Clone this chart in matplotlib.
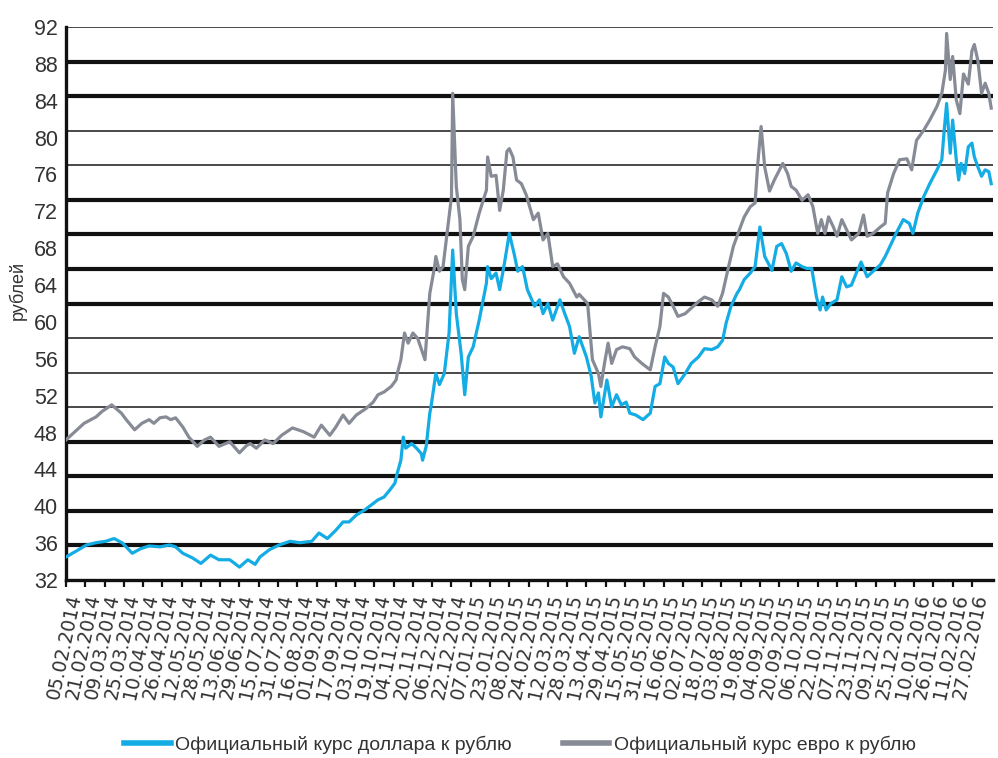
import numpy as np
import pandas as pd
import matplotlib
matplotlib.use('Agg')
import matplotlib.pyplot as plt
from matplotlib import font_manager

# дни от 05.02.2014 и курсы (руб.)
usd_days = [0, 8, 17, 25, 33, 40, 47, 55, 62, 69, 78, 86, 91, 97, 105, 112, 120, 127, 136, 144,
            151, 157, 161, 169, 177, 186, 194, 204, 210, 217, 224, 230, 235, 241, 248, 253, 259, 264, 269, 273,
            275, 278, 280, 282, 287, 291, 295, 296, 299, 302, 303, 307, 310, 314, 318, 321, 324, 328, 331, 334,
            338, 343, 349, 350, 353, 357, 360, 364, 368, 372, 375, 379, 383, 389, 393, 396, 400, 404, 410, 414,
            418, 422, 426, 432, 436, 439, 442, 444, 449, 453, 457, 461, 465, 468, 473, 479, 485, 489, 493, 497,
            500, 504, 508, 514, 519, 525, 530, 536, 541, 545, 548, 552, 557, 559, 563, 568, 572, 576, 580, 586,
            590, 594, 598, 602, 606, 611, 615, 619, 623, 626, 628, 631, 635, 640, 644, 648, 652, 656, 660, 665,
            670, 676, 680, 684, 689, 695, 700, 703, 707, 712, 717, 723, 727, 729, 731, 734, 736, 739, 741, 743,
            746, 749, 752, 754, 757, 760, 763, 766, 768]
usd_rate = [34.5, 35.1, 35.8, 36.05, 36.2, 36.5, 36.0, 34.9, 35.4, 35.7, 35.6, 35.8, 35.6, 34.9, 34.4, 33.8, 34.7, 34.2, 34.2, 33.4,
            34.2, 33.7, 34.5, 35.3, 35.8, 36.2, 36.05, 36.2, 37.1, 36.5, 37.4, 38.3, 38.3, 39.05, 39.6, 40.1, 40.7, 41.0, 41.8, 42.5,
            43.6, 45.0, 47.5, 46.3, 46.8, 46.3, 45.7, 45.0, 46.5, 50.1, 50.8, 54.4, 53.2, 54.4, 58.8, 67.8, 60.9, 56.6, 52.1, 56.2,
            57.3, 60.2, 64.2, 66.0, 64.7, 65.3, 63.5, 66.4, 69.6, 67.4, 65.5, 66.0, 63.5, 61.7, 62.4, 60.9, 62.0, 60.2, 62.4, 60.9,
            59.5, 56.6, 58.4, 56.2, 54.1, 51.2, 52.3, 49.7, 53.7, 50.8, 52.1, 51.0, 51.3, 50.1, 49.9, 49.4, 50.1, 53.0, 53.3, 56.2,
            55.5, 55.1, 53.3, 54.4, 55.5, 56.2, 57.1, 57.0, 57.3, 58.0, 59.9, 61.7, 63.1, 63.5, 64.6, 65.3, 66.0, 70.3, 67.1, 65.6,
            68.2, 68.5, 67.4, 65.5, 66.4, 66.0, 65.8, 65.8, 62.7, 61.3, 62.7, 61.3, 62.0, 62.4, 64.9, 63.8, 64.0, 65.3, 66.5, 64.9,
            65.5, 66.2, 67.1, 68.2, 69.6, 71.1, 70.7, 69.6, 71.8, 73.6, 75.0, 76.5, 77.6, 80.8, 83.7, 78.3, 81.9, 77.6, 75.4, 77.2,
            76.1, 79.0, 79.4, 77.9, 76.8, 75.8, 76.5, 76.3, 75.0]

eur_days = [0, 15, 25, 30, 38, 46, 50, 57, 63, 69, 73, 78, 83, 87, 91, 97, 102, 109, 115, 120,
            127, 136, 144, 150, 153, 158, 165, 172, 179, 188, 197, 206, 212, 219, 224, 230, 235, 241, 249, 255,
            259, 264, 270, 274, 275, 278, 281, 284, 288, 292, 298, 302, 306, 307, 310, 313, 317, 320, 321, 324,
            327, 329, 331, 334, 338, 343, 349, 350, 353, 357, 360, 363, 366, 368, 371, 374, 378, 382, 388, 392,
            396, 400, 404, 408, 413, 418, 424, 426, 433, 437, 442, 444, 447, 450, 453, 457, 462, 468, 472, 478,
            485, 489, 493, 496, 500, 504, 508, 514, 519, 525, 530, 536, 541, 545, 550, 554, 559, 563, 568, 572,
            574, 577, 580, 584, 588, 595, 599, 602, 606, 611, 616, 620, 624, 627, 630, 633, 637, 640, 644, 648,
            652, 658, 662, 665, 670, 676, 680, 682, 687, 692, 698, 702, 706, 712, 717, 723, 727, 730, 731, 734,
            736, 739, 742, 745, 749, 752, 754, 757, 760, 763, 766, 768]
eur_rate = [47.2, 49.0, 49.7, 50.3, 51.0, 50.1, 49.4, 48.3, 49.0, 49.4, 49.0, 49.6, 49.7, 49.4, 49.6, 48.6, 47.5, 46.5, 47.2, 47.5,
            46.5, 47.0, 45.8, 46.6, 46.8, 46.3, 47.2, 46.8, 47.7, 48.5, 48.1, 47.5, 48.8, 47.7, 48.6, 49.9, 49.0, 49.9, 50.6, 51.3,
            52.1, 52.4, 53.0, 53.7, 54.4, 55.9, 58.8, 57.7, 58.8, 58.2, 55.9, 63.1, 66.0, 67.1, 65.5, 66.0, 70.3, 73.6, 84.8, 74.7,
            71.1, 64.6, 63.5, 68.2, 69.3, 71.8, 74.3, 77.9, 75.8, 75.9, 72.1, 74.3, 78.5, 78.8, 77.9, 75.4, 75.0, 73.8, 71.1, 71.8,
            68.9, 69.6, 66.0, 66.3, 64.9, 64.2, 62.7, 63.0, 62.0, 55.9, 54.4, 53.0, 55.5, 57.7, 55.5, 57.0, 57.3, 57.1, 56.2, 55.5,
            54.8, 57.3, 59.5, 63.1, 62.7, 61.7, 60.6, 60.9, 61.5, 62.2, 62.7, 62.4, 61.7, 63.1, 66.0, 68.2, 70.0, 71.4, 72.5, 72.9,
            76.8, 81.2, 76.8, 74.2, 75.4, 77.2, 76.1, 74.7, 74.3, 73.2, 73.8, 72.5, 69.6, 71.1, 69.6, 71.4, 70.3, 69.3, 71.1, 70.0,
            68.9, 69.6, 71.6, 69.3, 69.6, 70.3, 70.7, 74.0, 76.1, 77.6, 77.7, 76.5, 79.7, 80.8, 81.9, 83.4, 84.8, 87.3, 91.3, 86.3,
            88.8, 84.1, 82.6, 86.9, 85.8, 89.4, 90.1, 88.3, 84.8, 85.9, 84.8, 83.2]

start = pd.Timestamp('2014-02-05')
tick_days = np.arange(0, 753, 16)
tick_labels = [(start + pd.Timedelta(days=int(d))).strftime('%d.%m.%Y') for d in tick_days]
y_ticks = np.arange(32, 93, 4)

# толстые / тонкие линии сетки (16 полос)
grid_thick = [1, 2, 3, 4, 8, 9, 10, 11, 14, 15]

names = {f.name for f in font_manager.fontManager.ttflist}
narrow = 'Liberation Sans Narrow' if 'Liberation Sans Narrow' in names else 'Liberation Sans'

fig = plt.figure(figsize=(9.98, 7.58), dpi=100)
ax = fig.add_axes([0.0661, 0.2348, 0.995 - 0.0661, 0.9644 - 0.2348])

for i in range(1, 17):
    yv = 32 + 60.0 * i / 16
    if i in grid_thick:
        ax.axhline(yv, color='#111111', lw=3.0, zorder=1)
    else:
        ax.axhline(yv, color='#3a3a3a', lw=1.3, zorder=1)

blue = '#14ace4'
grey = '#878b96'
ax.plot(usd_days, usd_rate, color=blue, lw=2.3, zorder=3,
        label='Официальный курс доллара к рублю')
ax.plot(eur_days, eur_rate, color=grey, lw=2.3, zorder=3,
        label='Официальный курс евро к рублю')

ax.set_xlim(0, 769.5)
ax.set_ylim(32, 92)

ax.set_yticks(y_ticks)
ax.set_yticklabels([str(v) for v in y_ticks], family=narrow, fontsize=15.5, color='#333333')
ax.tick_params(axis='y', length=0, pad=6)

ax.set_xticks(tick_days)
ax.set_xticklabels(tick_labels, rotation=78, ha='right', va='top', rotation_mode='anchor',
                   fontsize=13.5, color='#333333')
ax.tick_params(axis='x', length=5, width=1.6, direction='out', pad=4, color='#111111')

for s in ['top', 'right']:
    ax.spines[s].set_visible(False)
for s in ['left', 'bottom']:
    ax.spines[s].set_linewidth(2.4)
    ax.spines[s].set_color('#111111')

fig.text(0.018, 0.617, 'рублей', rotation=90, ha='center', va='center',
         family=narrow, fontsize=13, color='#333333')

fig.legend(loc='center', bbox_to_anchor=(0.521, 0.017), ncol=2, frameon=False,
           prop={'family': narrow, 'size': 14}, handlelength=2.4, handletextpad=0.25,
           columnspacing=2.6, labelcolor='#333333')
leg_lines = fig.legends[0].get_lines()
for l in leg_lines:
    l.set_linewidth(4)

fig.savefig('out.png', dpi=100)
